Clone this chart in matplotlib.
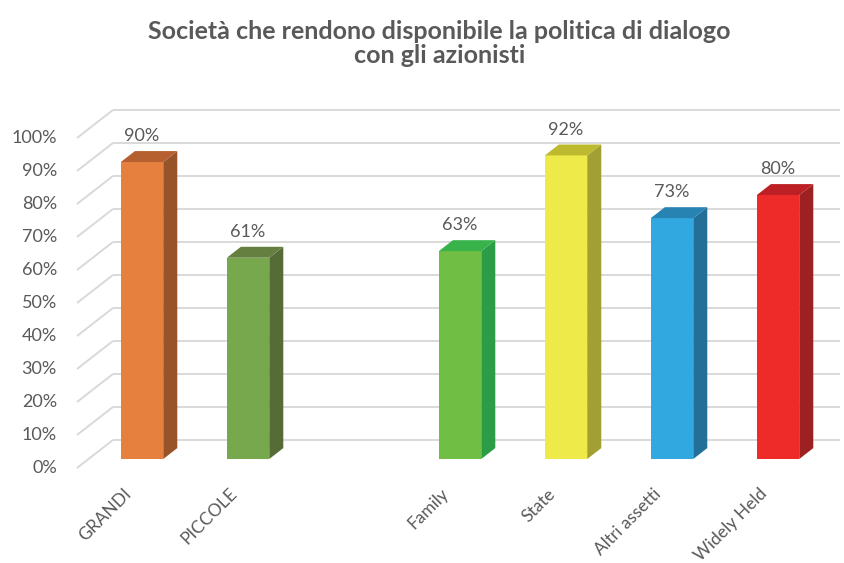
import matplotlib.pyplot as plt
from matplotlib.patches import Polygon

plt.rcParams['font.family'] = ['Lato', 'DejaVu Sans']

categories = ['GRANDI', 'PICCOLE', 'Family', 'State', 'Altri assetti', 'Widely Held']
slots = [0, 1, 3, 4, 5, 6]          # slot 2 left empty between the two groups
values = [90, 61, 63, 92, 73, 80]
y_ticks = list(range(0, 101, 10))

front_colors = ['#E6803F', '#78A84E', '#70BE44', '#EEEA4A', '#31A9E0', '#EE2B28']
side_colors = ['#97542B', '#576B37', '#2A9D46', '#A29F33', '#236F97', '#9E2121']
top_colors = ['#B5602E', '#647F40', '#37B34A', '#BEBA30', '#2683B2', '#BD2024']

TEXT = '#595959'
GRID = '#D9D9D9'

# fake 3d: a point at depth d (0 = front, 1 = back wall) is shifted by d*(DX, DY)
DX, DY = 0.34, 8.5
D0, D1 = 0.32, 0.71          # front and back of the columns
W = 0.40                     # column width
XL = -0.505                  # left edge of the floor, front plane
XR = 6.69                    # right end of the back wall


def shift(x, y, d):
    return x + d * DX, y + d * DY


fig = plt.figure(figsize=(8.44, 5.63), dpi=100)
ax = fig.add_axes([0, 0, 1, 1])
ax.set_xlim(-130.5 / 106, (844 - 130.5) / 106)
ax.set_ylim((468 - 563) / 3.3, 468 / 3.3)
ax.axis('off')

# back wall gridlines + diagonal lines from the value axis
for t in y_ticks:
    bx, by = shift(XL, t, 1)
    ax.plot([XL, bx], [t, by], color=GRID, lw=1.4, zorder=1, solid_capstyle='butt')
    ax.plot([bx, XR], [by, by], color=GRID, lw=1.4, zorder=1, solid_capstyle='butt')
    ax.text(XL - 0.19, t, f'{t}%', ha='right', va='center', fontsize=13, color=TEXT)

# columns
fx = [s + D0 * DX for s in slots]
ax.bar(fx, values, width=W, bottom=D0 * DY, color=front_colors, zorder=3)
for s, v, sc, tc in zip(slots, values, side_colors, top_colors):
    l, r = s - W / 2, s + W / 2
    side = [shift(r, 0, D0), shift(r, 0, D1), shift(r, v, D1), shift(r, v, D0)]
    top = [shift(l, v, D0), shift(r, v, D0), shift(r, v, D1), shift(l, v, D1)]
    ax.add_patch(Polygon(side, closed=True, facecolor=sc, edgecolor='none', zorder=3))
    ax.add_patch(Polygon(top, closed=True, facecolor=tc, edgecolor='none', zorder=3))
    x, y = shift(s, v, D0)
    ax.text(x, y + 7.8, f'{v}%', ha='center', va='center', fontsize=13, color=TEXT, zorder=4)

# category labels, rotated 45 degrees, ending just under each column
for s, name in zip(slots, categories):
    ax.text(s - 0.02, -7.0, name, rotation=45, rotation_mode='anchor',
            ha='right', va='center', fontsize=12.5, color=TEXT)

fig.text(0.521, 0.923, 'Società che rendono disponibile la politica di dialogo\ncon gli azionisti',
         ha='center', va='center', fontsize=18, fontweight='bold', color=TEXT, linespacing=1.08)

fig.savefig('out.png', dpi=100)
